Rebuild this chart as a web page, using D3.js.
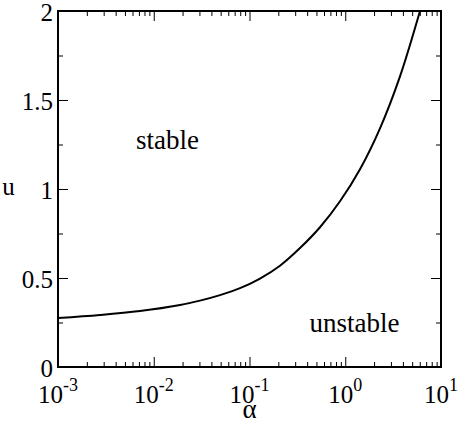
<!DOCTYPE html>
<meta charset="utf-8">
<html>
<script src="https://d3js.org/d3.v7.min.js"></script>
<style>
  body { margin: 0; background: #fff; }
</style>
<div id="chart"></div>
<script>

// values
var alphas = [0.001, 0.002745, 0.00718, 0.0188, 0.0304, 0.0492, 0.0796, 0.1287, 0.2083, 0.3368, 0.5448, 0.8815, 1.4256, 2.307, 3.731, 6.035];
var uVals  = [0.275, 0.292, 0.314, 0.348, 0.373, 0.404, 0.443, 0.497, 0.569, 0.668, 0.785, 0.931, 1.111, 1.341, 1.633, 2.0];
var xExps  = [-3, -2, -1, 0, 1];
var yTicks = [0, 0.5, 1, 1.5, 2];
var yLabels = ["0", "0.5", "1", "1.5", "2"];

var serif = "'Liberation Serif', 'Times New Roman', Times, serif";

var width = 460,
    height = 424,
    margin = {top: 11, right: 19, bottom: 57, left: 58};

var svg = d3.select("#chart")
  .append("svg")
    .attr("width", width)
    .attr("height", height);

var x = d3.scaleLog()
  .domain([1e-3, 10])
  .range([margin.left, width - margin.right]);

var y = d3.scaleLinear()
  .domain([0, 2])
  .range([height - margin.bottom, margin.top]);

// minor ticks 2..9 of every decade
var xMinor = [];
xExps.slice(0, -1).forEach(function(e) {
  for (var k = 2; k < 10; k++) xMinor.push(k * Math.pow(10, e));
});
var xMajor = xExps.map(function(e) { return Math.pow(10, e); });
var yMinor = [0.25, 0.75, 1.25, 1.75];

function ticks(axisFn, scale, vals, size, tx) {
  svg.append("g")
    .attr("transform", tx)
    .call(axisFn(scale).tickValues(vals).tickSize(size).tickFormat("").tickSizeOuter(0))
    .call(function(g) {
      g.select(".domain").remove();
      g.selectAll("line").attr("stroke", "#000").attr("stroke-width", 1);
    });
}

var bottom = height - margin.bottom, right = width - margin.right;
ticks(d3.axisBottom, x, xMajor, -10, "translate(0," + bottom + ")");
ticks(d3.axisBottom, x, xMinor, -5, "translate(0," + bottom + ")");
ticks(d3.axisTop, x, xMajor, -10, "translate(0," + margin.top + ")");
ticks(d3.axisTop, x, xMinor, -5, "translate(0," + margin.top + ")");
ticks(d3.axisLeft, y, yTicks, -10, "translate(" + margin.left + ",0)");
ticks(d3.axisLeft, y, yMinor, -5, "translate(" + margin.left + ",0)");
ticks(d3.axisRight, y, yTicks, -10, "translate(" + right + ",0)");
ticks(d3.axisRight, y, yMinor, -5, "translate(" + right + ",0)");

// frame
svg.append("rect")
  .attr("x", margin.left)
  .attr("y", margin.top)
  .attr("width", right - margin.left)
  .attr("height", bottom - margin.top)
  .attr("fill", "none")
  .attr("stroke", "#000")
  .attr("stroke-width", 2);

// x tick labels 10^n
var xl = svg.selectAll("text.xl")
  .data(xExps)
  .enter().append("text")
    .attr("class", "xl")
    .attr("x", function(d) { return x(Math.pow(10, d)); })
    .attr("y", bottom + 36)
    .attr("text-anchor", "middle")
    .style("font-family", serif)
    .style("font-size", "25px");
xl.append("tspan").text("10");
xl.append("tspan")
  .attr("dy", -12)
  .style("font-size", "18px")
  .text(function(d) { return d; });

// y tick labels
svg.selectAll("text.yl")
  .data(yTicks)
  .enter().append("text")
    .attr("class", "yl")
    .attr("x", margin.left - 5)
    .attr("y", function(d) { return y(d); })
    .attr("dy", "0.38em")
    .attr("text-anchor", "end")
    .style("font-family", serif)
    .style("font-size", "25px")
    .text(function(d, i) { return yLabels[i]; });

function label(txt, px, py, size) {
  svg.append("text")
    .attr("x", px)
    .attr("y", py)
    .attr("text-anchor", "middle")
    .style("font-family", serif)
    .style("font-size", size + "px")
    .text(txt);
}

// axis titles
label("α", (margin.left + right) / 2, 418, 27);
label("u", 8.5, 195, 25);

// region labels
label("stable", 167.5, 149, 27);
label("unstable", 354.5, 332, 27);

// boundary curve
svg.append("clipPath")
  .attr("id", "clip")
  .append("rect")
    .attr("x", margin.left)
    .attr("y", margin.top)
    .attr("width", right - margin.left)
    .attr("height", bottom - margin.top);

var line = d3.line()
  .x(function(d, i) { return x(alphas[i]); })
  .y(function(d, i) { return y(uVals[i]); })
  .curve(d3.curveCatmullRom.alpha(0.5));

svg.append("path")
  .attr("clip-path", "url(#clip)")
  .attr("d", line(alphas))
  .attr("fill", "none")
  .attr("stroke", "#000")
  .attr("stroke-width", 2);

</script>
</html>
